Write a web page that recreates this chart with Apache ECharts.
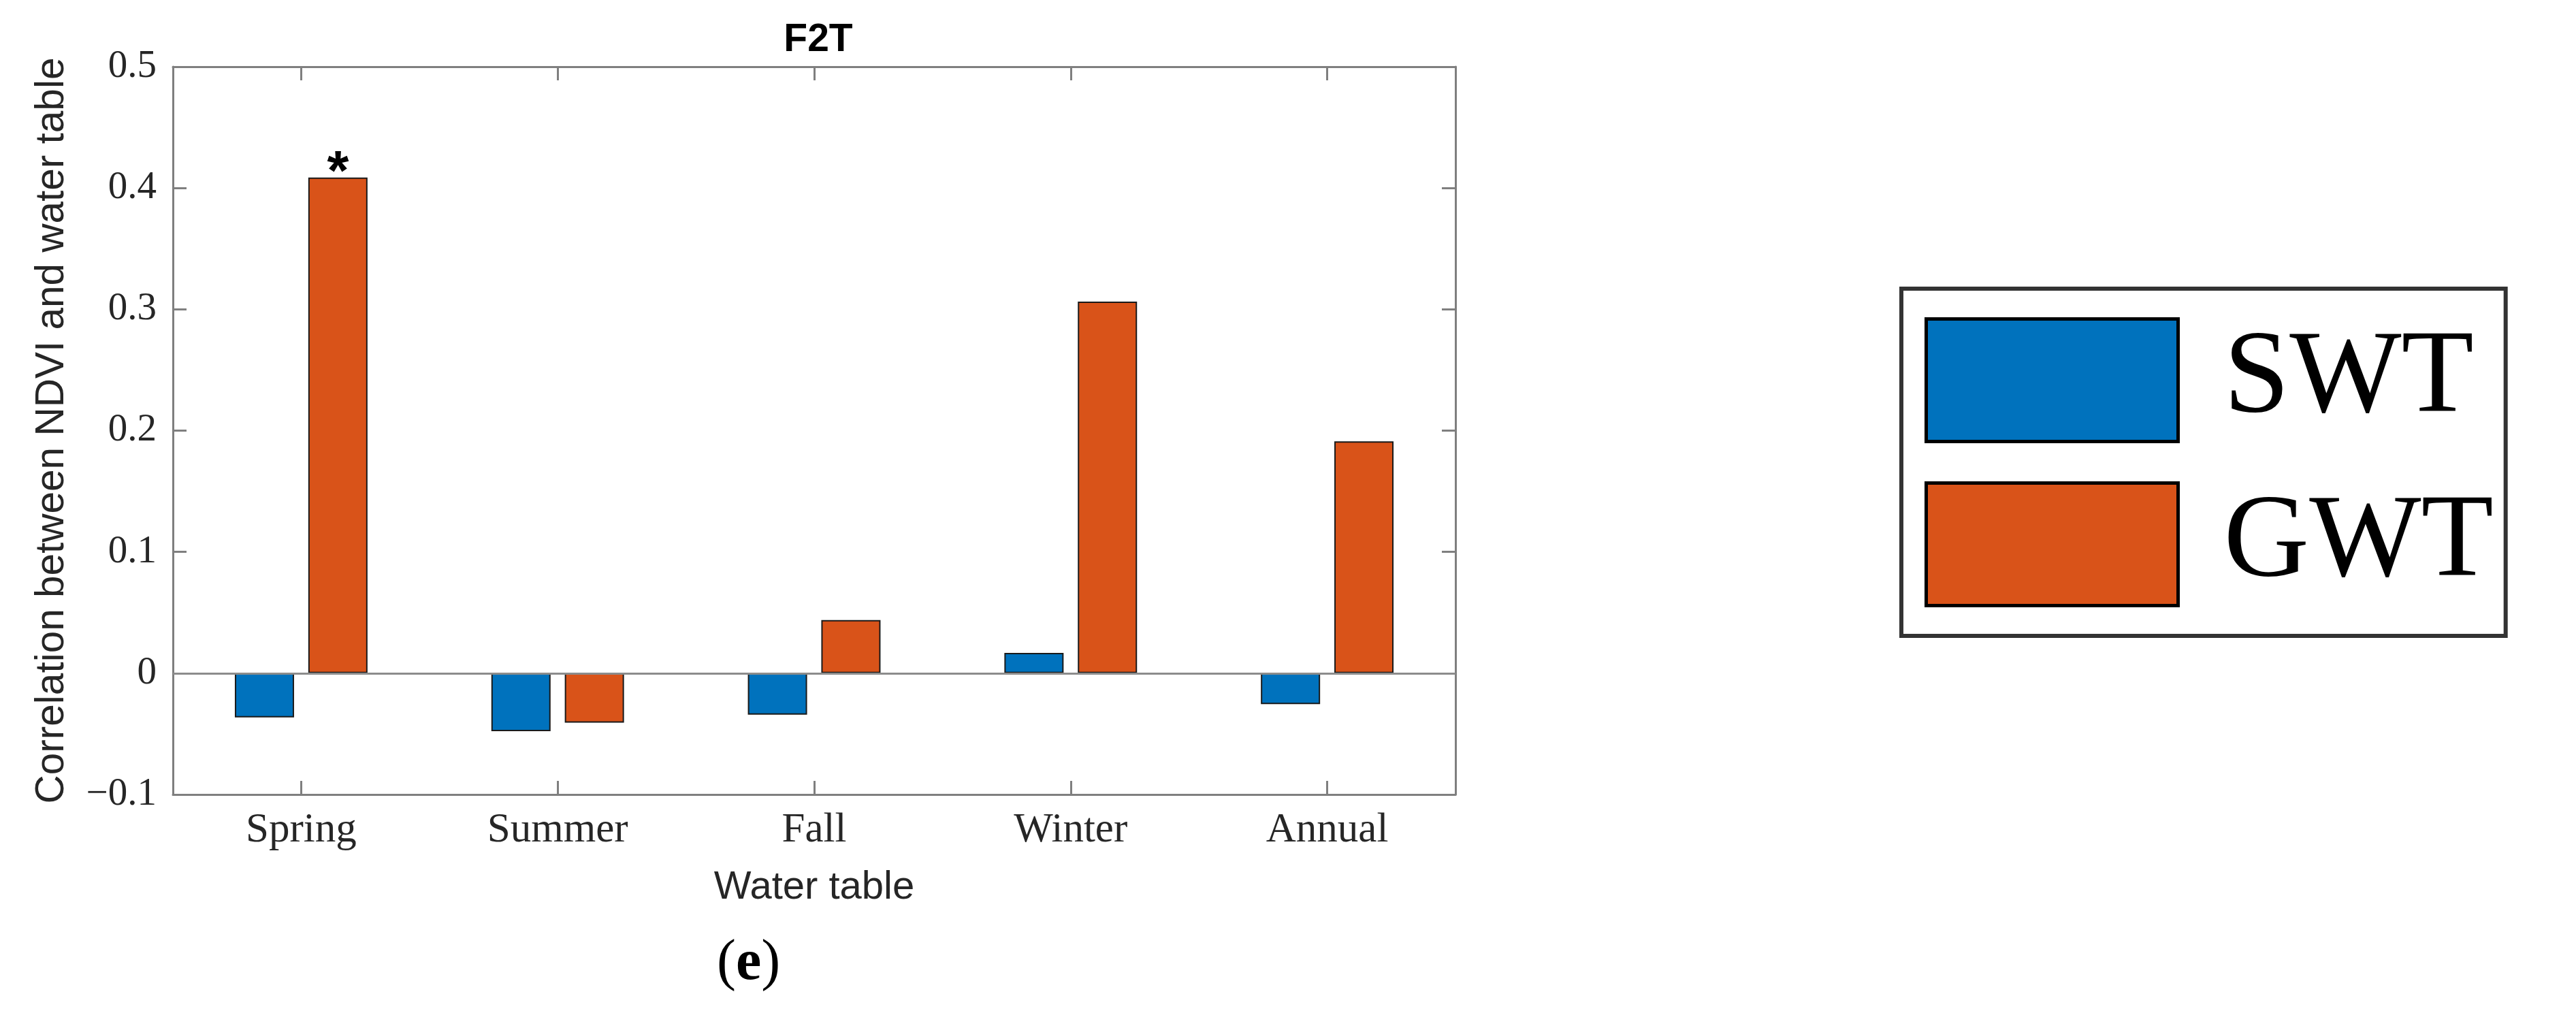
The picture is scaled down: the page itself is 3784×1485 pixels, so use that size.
<!DOCTYPE html>
<html>
<head>
<meta charset="utf-8">
<script src="https://cdn.jsdelivr.net/npm/echarts@6/dist/echarts.min.js"></script>
<style>
html,body{margin:0;padding:0;background:#fff;}
#chart{width:3784px;height:1485px;}
</style>
</head>
<body>
<div id="chart"></div>
<script>
// ---- data ----
const categories = ['Spring', 'Summer', 'Fall', 'Winter', 'Annual'];
const seriesNames = ['SWT', 'GWT'];
const swtValues = [-0.0364, -0.0478, -0.0342, 0.0167, -0.0255];
const gwtValues = [0.4086, -0.0408, 0.0438, 0.3063, 0.1912];
const significant = [true, false, false, false, false]; // GWT marked with *
const yMin = -0.1, yMax = 0.5, yStep = 0.1;
const titleText = 'F2T';
const yTitle = 'Correlation between NDVI and water table';
const xTitle = 'Water table';
const panelLabel = 'e';

const chart = echarts.init(document.getElementById('chart'), null, {renderer: 'canvas'});

const axisColor = '#7f7f7f';
const serif = '"Liberation Serif", "DejaVu Serif", serif';
const sans = '"Liberation Sans", Arial, sans-serif';

function fmtY(v) {
  const r = Math.round(v * 10) / 10;
  if (r === 0) return '0';
  return (r < 0 ? '\u2212' : '') + Math.abs(r).toFixed(1);
}

const gwtData = gwtValues.map((v, i) => significant[i] ? {
  value: v,
  label: {show: true, formatter: '*', position: 'top', distance: -36,
          fontFamily: sans, fontWeight: 'bold', fontSize: 82, color: '#000'}
} : v);

const option = {
  animation: false,
  backgroundColor: '#fff',
  color: ['#0072BD', '#D95319'],
  title: {
    text: titleText, left: 1197, top: 26, textAlign: 'center',
    textStyle: {fontFamily: sans, fontWeight: 'bold', fontSize: 57, color: '#000'}
  },
  legend: {
    orient: 'vertical', left: 2793, top: 424,
    padding: [42, 18, 42, 34],
    itemWidth: 370, itemHeight: 180, itemGap: 56,
    icon: 'rect',
    borderColor: '#333', borderWidth: 6,
    itemStyle: {borderColor: '#000', borderWidth: 5},
    textStyle: {fontFamily: serif, fontSize: 174, color: '#000', padding: [0, 0, 0, 62]},
    data: seriesNames
  },
  grid: {left: 254, top: 98, width: 1884, height: 1069},
  xAxis: [{
    type: 'category', position: 'bottom', data: categories,
    axisLine: {show: true, onZero: false, lineStyle: {color: axisColor, width: 3}},
    axisTick: {show: true, inside: true, alignWithLabel: true, length: 20, lineStyle: {color: axisColor, width: 3}},
    axisLabel: {fontFamily: serif, fontSize: 61, color: '#262626', margin: 22},
    name: xTitle, nameLocation: 'middle', nameGap: 108,
    nameTextStyle: {fontFamily: sans, fontSize: 58, color: '#262626', verticalAlign: 'top'}
  }, {
    type: 'category', position: 'top', data: categories,
    axisLine: {show: true, onZero: false, lineStyle: {color: axisColor, width: 3}},
    axisTick: {show: true, inside: true, alignWithLabel: true, length: 20, lineStyle: {color: axisColor, width: 3}},
    axisLabel: {show: false}
  }],
  yAxis: [{
    type: 'value', position: 'left', min: yMin, max: yMax, interval: yStep,
    splitLine: {show: false},
    axisLine: {show: true, onZero: false, lineStyle: {color: axisColor, width: 3}},
    axisTick: {show: true, inside: true, length: 20, lineStyle: {color: axisColor, width: 3}},
    axisLabel: {fontFamily: serif, fontSize: 57, color: '#262626', margin: 24, formatter: fmtY},
    name: yTitle, nameLocation: 'middle', nameGap: 148, nameRotate: 90,
    nameTextStyle: {fontFamily: sans, fontSize: 58.5, color: '#262626'}
  }, {
    type: 'value', position: 'right', min: yMin, max: yMax, interval: yStep,
    splitLine: {show: false},
    axisLine: {show: true, onZero: false, lineStyle: {color: axisColor, width: 3}},
    axisTick: {show: true, inside: true, length: 20, lineStyle: {color: axisColor, width: 3}},
    axisLabel: {show: false}
  }],
  series: [{
    name: seriesNames[0], type: 'bar', xAxisIndex: 0, yAxisIndex: 0,
    data: swtValues, barWidth: 87, barGap: '24%',
    itemStyle: {color: '#0072BD', borderColor: '#1a1a1a', borderWidth: 2},
    markLine: {
      silent: true, symbol: ['none', 'none'], label: {show: false},
      lineStyle: {color: '#8c8c8c', width: 3, type: 'solid'},
      data: [{yAxis: 0}]
    }
  }, {
    name: seriesNames[1], type: 'bar', xAxisIndex: 0, yAxisIndex: 0,
    data: gwtData, barWidth: 87, barGap: '24%',
    itemStyle: {color: '#D95319', borderColor: '#1a1a1a', borderWidth: 2}
  }],
  graphic: [{
    type: 'text', left: 1053, top: 1374,
    style: {
      text: '({b|' + panelLabel + '})',
      font: '84px "Liberation Serif"',
      fill: '#000',
      rich: {b: {fontFamily: serif, fontSize: 84, fontWeight: 'bold', fill: '#000'}}
    }
  }]
};
chart.setOption(option);
</script>
</body>
</html>
